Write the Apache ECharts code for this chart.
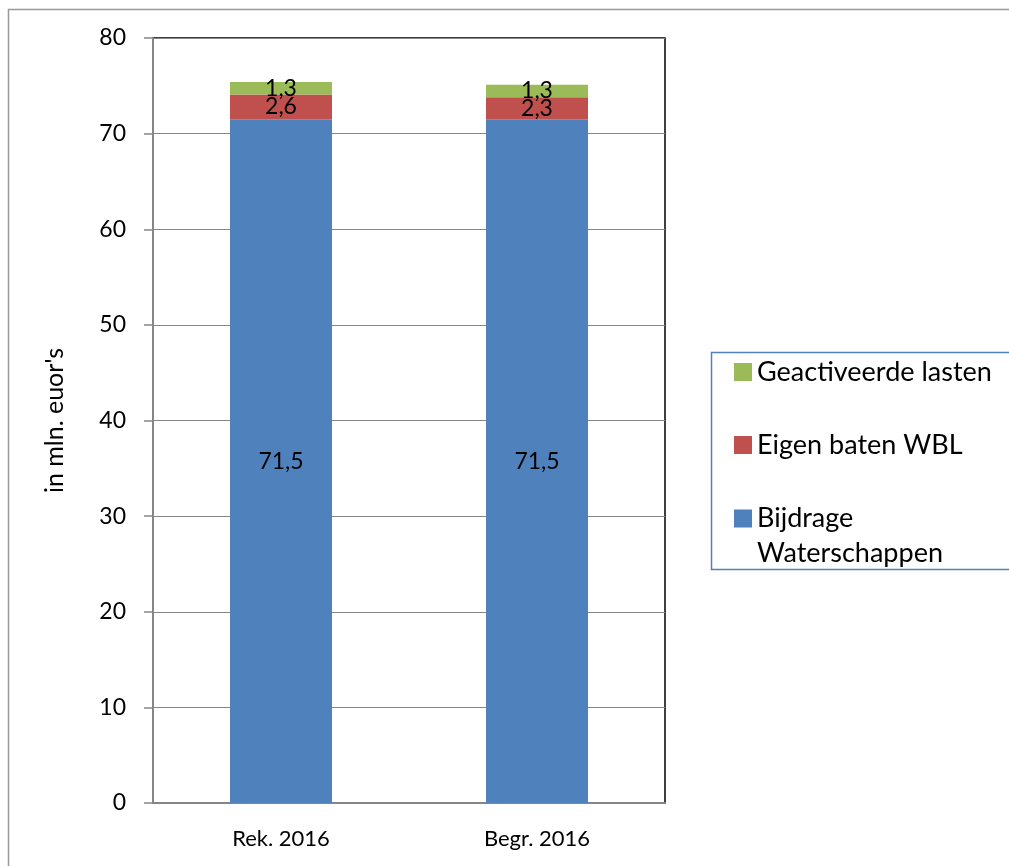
<!DOCTYPE html>
<html>
<head>
<meta charset="utf-8">
<script src="https://cdn.jsdelivr.net/npm/echarts@6/dist/echarts.min.js"></script>
<style>html,body{margin:0;padding:0;background:#fff}#c{width:1009px;height:866px}</style>
</head>
<body>
<div id="c"></div>
<script>
var categories = ['Rek. 2016', 'Begr. 2016'];
var bijdrage = [71.5, 71.5];
var eigenBaten = [2.6, 2.3];
var geactiveerd = [1.3, 1.3];
var yTicks = [0, 10, 20, 30, 40, 50, 60, 70, 80];
var names = ['Bijdrage Waterschappen', 'Eigen baten WBL', 'Geactiveerde lasten'];

var FONT = 'Lato, "Open Sans", sans-serif';
function fmt(p){ return String(p.value).replace('.', ','); }
function mkSeries(name, data, color){
  return {
    name: name, type: 'bar', stack: 'total', data: data, barWidth: 102,
    itemStyle: { color: color },
    label: { show: true, position: 'inside', formatter: fmt, color: '#000', fontSize: 23, fontFamily: FONT },
    emphasis: { disabled: true }
  };
}
function mkLegend(name, top, extra){
  var l = {
    orient: 'vertical', left: 734, top: top, padding: 0,
    itemWidth: 18, itemHeight: 18, itemGap: 0, icon: 'rect',
    data: [name],
    textStyle: { fontSize: 27, fontFamily: FONT, color: '#000', lineHeight: 28 }
  };
  if (extra) Object.assign(l, extra);
  return l;
}
var chart = echarts.init(document.getElementById('c'), null, { renderer: 'canvas' });
chart.setOption({
  animation: false,
  backgroundColor: '#fff',
  graphic: [
    { type: 'rect', shape: { x: 8.5, y: 9.5, width: 1200, height: 1000 }, style: { fill: 'none', stroke: '#999', lineWidth: 1.5 }, z: -1 },
    { type: 'rect', shape: { x: 711.5, y: 352.5, width: 400, height: 217 }, style: { fill: 'none', stroke: '#4f81bd', lineWidth: 1.5 } }
  ],
  grid: { left: 153, top: 38, width: 512, height: 765, show: true, borderColor: '#000', borderWidth: 1.5, backgroundColor: 'transparent' },
  legend: [
    mkLegend('Geactiveerde lasten', 358),
    mkLegend('Eigen baten WBL', 431),
    mkLegend('Bijdrage Waterschappen', 470, {
      formatter: function(){ return '{a|Bijdrage\nWaterschappen}'; },
      textStyle: { fontSize: 27, fontFamily: FONT, color: '#000', rich: { a: { fontSize: 27, fontFamily: FONT, lineHeight: 35, padding: [35, 0, 0, 0] } } }
    })
  ],
  xAxis: {
    type: 'category', data: categories,
    axisLine: { show: true, lineStyle: { color: '#868686', width: 2 } },
    axisTick: { show: false },
    axisLabel: { color: '#000', fontSize: 22, fontFamily: FONT, margin: 25 }
  },
  yAxis: {
    type: 'value', min: 0, max: 80, interval: 10,
    name: "in mln. euor's", nameLocation: 'middle', nameGap: 86, nameRotate: 90,
    nameTextStyle: { color: '#000', fontSize: 25, fontFamily: FONT },
    axisLine: { show: true, lineStyle: { color: '#868686', width: 2 } },
    axisTick: { show: true, length: 9, inside: false, lineStyle: { color: '#868686', width: 1.5 } },
    axisLabel: { color: '#000', fontSize: 23, fontFamily: FONT, margin: 27,
      formatter: function(v){ return yTicks.indexOf(v) >= 0 ? String(v) : ''; } },
    splitLine: { show: true, lineStyle: { color: '#868686', width: 1 } }
  },
  series: [
    mkSeries(names[0], bijdrage, '#4f81bd'),
    mkSeries(names[1], eigenBaten, '#c0504d'),
    mkSeries(names[2], geactiveerd, '#9bbb59')
  ]
});
</script>
</body>
</html>
